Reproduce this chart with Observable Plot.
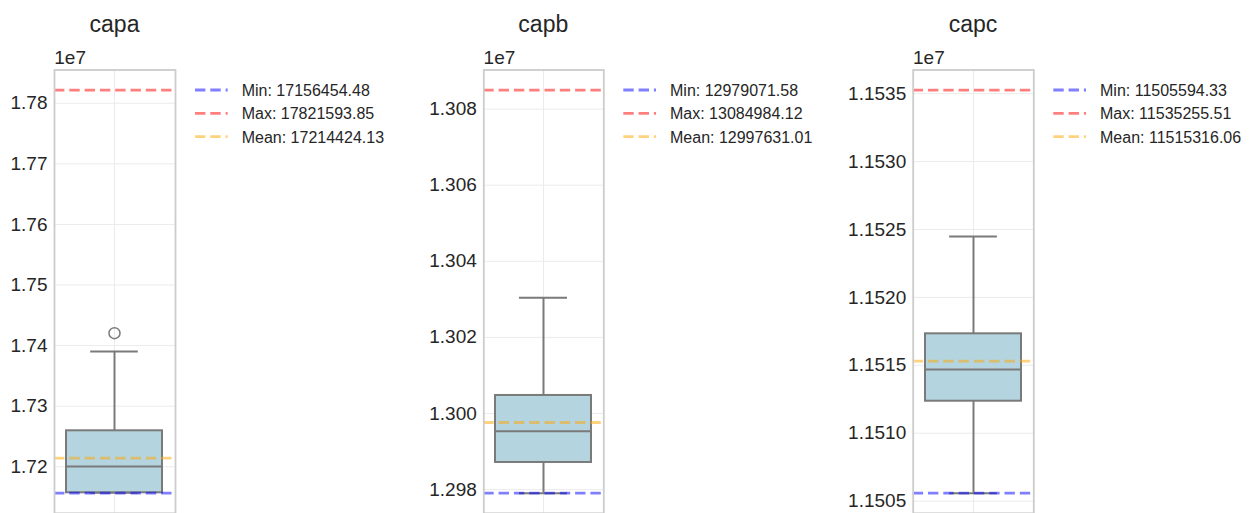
<!DOCTYPE html>
<html>
<head>
<meta charset="utf-8">
<script src="https://cdn.jsdelivr.net/npm/d3@7"></script>
<script src="https://cdn.jsdelivr.net/npm/@observablehq/plot@0.6"></script>
<style>
  html, body { margin: 0; padding: 0; background: #ffffff; overflow: hidden; }
  #wrap { position: relative; width: 1253px; height: 513px; font-family: "Liberation Sans", Arial, sans-serif; }
  #wrap svg { position: absolute; top: 0; }
</style>
</head>
<body>
<div id="wrap"></div>
<script>
// ---- data ----
const panels    = ["capa", "capb", "capc"];
const mins      = [17156454.48, 12979071.58, 11505594.33];
const maxs      = [17821593.85, 13084984.12, 11535255.51];
const means     = [17214424.13, 12997631.01, 11515316.06];
const q1s       = [17157000, 12987130, 11512360];
const medians   = [17200440, 12995350, 11514700];
const q3s       = [17259360, 13004740, 11517320];
const whiskerLo = [17157000, 12979071.58, 11505594.33];
const whiskerHi = [17390240, 13030410, 11524480];
const outliers  = [[17420440], [], []];
const tickLabelsA = ["1.72", "1.73", "1.74", "1.75", "1.76", "1.77", "1.78"];
const tickLabelsB = ["1.298", "1.300", "1.302", "1.304", "1.306", "1.308"];
const tickLabelsC = ["1.1505", "1.1510", "1.1515", "1.1520", "1.1525", "1.1530", "1.1535"];
const tickLabels = [tickLabelsA, tickLabelsB, tickLabelsC];
const offsetText = "1e7";
const legendNames = ["Min", "Max", "Mean"];

// ---- layout / style ----
const frameLeft  = [54, 483.3, 912.7];
const frameRight = [175, 603.3, 1033.3];
const svgLeft    = [0, 420, 840];
const FONT = '"Liberation Sans", Arial, sans-serif';
const TEXT = "#262626";
const lineColors = ["#0000ff", "#ff0000", "#ffa500"];
const DASH = "10.4,4.9";
const LW = 2.8;
const BOXEDGE = "#7a7a7a";

const wrap = document.getElementById("wrap");

panels.forEach((name, i) => {
  const row = [{name, q1: q1s[i], q3: q3s[i], med: medians[i], lo: whiskerLo[i], hi: whiskerHi[i]}];
  const fl = outliers[i].map(v => ({name, v}));
  const pad = (maxs[i] - mins[i]) * 0.05;
  const labels = tickLabels[i];
  const ticks = labels.map(s => +s * 1e7);
  const digits = labels[0].split(".")[1].length;
  const w = frameRight[i] - svgLeft[i] + 2;
  const bw = (frameRight[i] - frameLeft[i]) * 0.8;
  const capInset = bw / 4;

  const chart = Plot.plot({
    width: w,
    height: 513,
    marginLeft: frameLeft[i] - svgLeft[i],
    marginRight: 2,
    marginTop: 69.5,
    marginBottom: 0.2,
    style: {fontFamily: FONT, fontSize: "19px", color: TEXT, background: "transparent", overflow: "visible"},
    x: {type: "band", domain: [name], padding: 0.111, axis: null},
    y: {
      domain: [mins[i] - pad, maxs[i] + pad],
      ticks: ticks,
      tickFormat: d => (d / 1e7).toFixed(digits),
      tickSize: 0,
      tickPadding: 7,
      label: null
    },
    marks: [
      Plot.ruleY(ticks, {stroke: "#ebebeb", strokeWidth: 1}),
      Plot.ruleX([name], {stroke: "#ebebeb", strokeWidth: 1}),
      Plot.ruleX(row, {x: "name", y1: "lo", y2: "hi", stroke: BOXEDGE, strokeWidth: 2}),
      Plot.tickY(row, {x: "name", y: "hi", stroke: BOXEDGE, strokeWidth: 2, insetLeft: capInset, insetRight: capInset}),
      Plot.tickY(row, {x: "name", y: "lo", stroke: BOXEDGE, strokeWidth: 2, insetLeft: capInset, insetRight: capInset}),
      Plot.barY(row, {x: "name", y1: "q1", y2: "q3", fill: "#b4d4df", stroke: BOXEDGE, strokeWidth: 2}),
      Plot.tickY(row, {x: "name", y: "med", stroke: BOXEDGE, strokeWidth: 2}),
      Plot.dot(fl, {x: "name", y: "v", r: 5.5, stroke: BOXEDGE, strokeWidth: 1.5, fill: "none"}),
      Plot.ruleY([mins[i]], {stroke: lineColors[0], strokeOpacity: 0.5, strokeWidth: LW, strokeDasharray: DASH}),
      Plot.ruleY([maxs[i]], {stroke: lineColors[1], strokeOpacity: 0.5, strokeWidth: LW, strokeDasharray: DASH}),
      Plot.ruleY([means[i]], {stroke: lineColors[2], strokeOpacity: 0.5, strokeWidth: LW, strokeDasharray: DASH}),
      Plot.frame({stroke: "#cccccc", strokeWidth: 1.8})
    ]
  });
  chart.style.left = svgLeft[i] + "px";
  wrap.appendChild(chart);
});

// ---- overlay: titles, offset text, legends ----
const ov = d3.select(wrap).append("svg")
  .attr("width", 1253).attr("height", 513)
  .style("left", "0px").style("pointer-events", "none")
  .style("font-family", FONT);

panels.forEach((name, i) => {
  const cx = (frameLeft[i] + frameRight[i]) / 2;
  ov.append("text").attr("x", cx).attr("y", 31.5)
    .attr("text-anchor", "middle").attr("font-size", 23).attr("fill", TEXT).text(name);
  ov.append("text").attr("x", frameLeft[i] + 0.3).attr("y", 64)
    .attr("font-size", 19).attr("fill", TEXT).text(offsetText);

  const vals = [mins[i], maxs[i], means[i]];
  const lx = frameRight[i] + 20;
  const rowsY = [90, 113.3, 136.7];
  vals.forEach((v, k) => {
    ov.append("line")
      .attr("x1", lx).attr("x2", lx + 32.7).attr("y1", rowsY[k]).attr("y2", rowsY[k])
      .attr("stroke", lineColors[k]).attr("stroke-opacity", 0.5)
      .attr("stroke-width", LW).attr("stroke-dasharray", DASH);
    ov.append("text").attr("x", lx + 46.7).attr("y", rowsY[k] + 6)
      .attr("font-size", 16).attr("fill", TEXT)
      .text(`${legendNames[k]}: ${v.toFixed(2)}`);
  });
});
</script>
</body>
</html>
